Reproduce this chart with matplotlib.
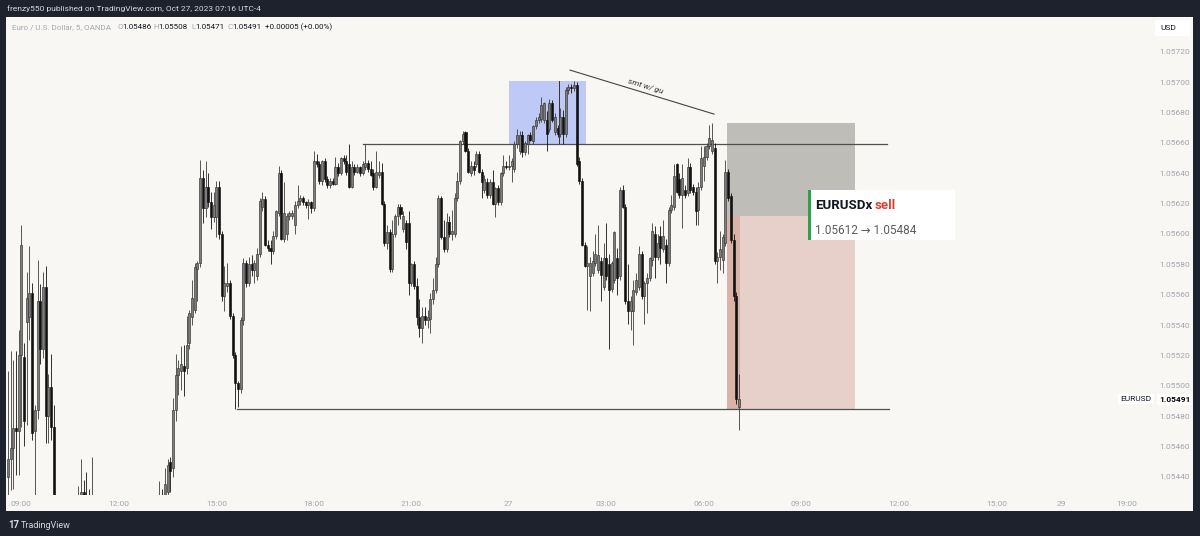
import numpy as np
import matplotlib.pyplot as plt
from matplotlib.patches import Rectangle
from matplotlib.transforms import blended_transform_factory

plt.rcParams['font.family'] = ['Roboto', 'DejaVu Sans']

# EUR/USD 5 min candles, Oct 26 08:35 -> Oct 27 07:05 (UTC-4)
# values are in points (1e-5) above 1.05000
open_pts = [
    440, 452, 459, 472, 470, 520, 519, 542, 545, 561,
    470, 484, 556, 524, 565, 480, 499, 473, 410, 405,
    398, 402, 395, 388, 392, 405, 415, 426, 430, 428,
    425, 415, 420, 408, 400, 405, 410, 403, 392, 395,
    402, 398, 390, 386, 392, 400, 396, 388, 393, 401,
    410, 406, 412, 418, 412, 416, 422, 428, 424, 430,
    450, 446, 484, 507, 510, 513, 512, 528, 545, 550,
    577, 581, 637, 617, 631, 621, 611, 611, 631, 600,
    559, 566, 568, 546, 520, 502, 498, 543, 581, 568,
    580, 576, 572, 587, 618, 623, 593, 591, 589, 599,
    614, 640, 597, 600, 612, 612, 606, 619, 622, 624,
    621, 619, 621, 617, 648, 646, 635, 648, 636, 632,
    635, 633, 644, 640, 650, 648, 646, 631, 644, 641,
    644, 640, 644, 647, 643, 640, 631, 639, 641, 620,
    594, 601, 577, 600, 612, 618, 603, 607, 607, 568,
    580, 566, 545, 538, 546, 543, 544, 557, 563, 580,
    624, 598, 590, 608, 600, 600, 624, 635, 661, 667,
    655, 640, 645, 646, 653, 641, 629, 634, 626, 634,
    620, 630, 621, 640, 645, 644, 645, 643, 659, 655,
    665, 654, 659, 665, 661, 671, 675, 676, 675, 675,
    669, 686, 667, 670, 666, 677, 666, 695, 697, 696,
    698, 648, 635, 593, 579, 572, 574, 581, 576, 582,
    565, 584, 580, 564, 570, 584, 572, 629, 618, 556,
    549, 549, 562, 565, 587, 559, 568, 571, 583, 600,
    585, 599, 590, 593, 581, 616, 618, 646, 636, 626,
    629, 627, 644, 631, 628, 616, 631, 645, 651, 658,
    655, 657, 582, 585, 583, 594, 641, 625, 596, 559,
    486,
]
high_pts = [
    510, 523, 517, 523, 537, 606, 528, 575, 592, 568,
    487, 583, 567, 575, 579, 508, 521, 487, 425, 418,
    410, 415, 405, 400, 410, 422, 434, 452, 438, 443,
    432, 453, 426, 415, 412, 418, 420, 410, 400, 408,
    412, 405, 398, 395, 404, 410, 402, 396, 405, 414,
    418, 415, 422, 424, 420, 426, 437, 432, 446, 452,
    453, 492, 521, 517, 526, 527, 546, 550, 570, 581,
    582, 649, 642, 648, 640, 628, 628, 635, 635, 602,
    579, 581, 570, 548, 522, 503, 545, 584, 583, 585,
    586, 583, 591, 624, 628, 625, 596, 596, 602, 616,
    645, 642, 634, 614, 615, 616, 622, 632, 626, 625,
    622, 623, 622, 655, 653, 648, 649, 650, 638, 637,
    637, 651, 647, 651, 652, 652, 659, 648, 646, 646,
    645, 648, 659, 649, 648, 643, 655, 648, 647, 622,
    606, 603, 609, 613, 620, 620, 615, 609, 615, 581,
    582, 571, 557, 552, 552, 550, 561, 571, 585, 626,
    625, 609, 614, 612, 616, 627, 641, 662, 668, 668,
    657, 648, 648, 655, 655, 643, 639, 637, 636, 642,
    631, 632, 641, 652, 648, 652, 650, 661, 669, 668,
    668, 661, 666, 667, 672, 677, 680, 690, 687, 681,
    689, 688, 680, 672, 683, 682, 697, 699, 699, 701,
    700, 651, 637, 595, 592, 585, 589, 600, 606, 585,
    594, 607, 587, 582, 602, 591, 631, 632, 620, 580,
    559, 570, 574, 592, 589, 569, 574, 585, 607, 605,
    600, 605, 609, 597, 618, 626, 646, 647, 640, 646,
    632, 650, 647, 633, 631, 634, 658, 658, 660, 672,
    673, 660, 588, 602, 600, 649, 643, 627, 600, 562,
    508,
]
low_pts = [
    420, 431, 432, 441, 441, 473, 460, 474, 530, 464,
    425, 478, 514, 518, 462, 462, 464, 400, 398, 392,
    385, 390, 380, 378, 386, 398, 408, 418, 420, 419,
    410, 412, 402, 395, 392, 398, 400, 388, 382, 390,
    394, 385, 380, 378, 388, 393, 384, 380, 388, 396,
    402, 398, 405, 408, 404, 410, 415, 418, 420, 426,
    430, 440, 477, 494, 497, 493, 508, 524, 540, 548,
    556, 578, 607, 611, 618, 603, 608, 598, 597, 556,
    549, 562, 544, 518, 485, 486, 495, 540, 565, 566,
    572, 568, 570, 585, 615, 592, 589, 580, 587, 597,
    612, 596, 595, 596, 609, 610, 600, 617, 619, 619,
    617, 610, 614, 615, 644, 633, 632, 634, 630, 630,
    632, 632, 638, 639, 646, 639, 630, 630, 639, 640,
    638, 639, 642, 641, 638, 629, 630, 637, 619, 592,
    590, 575, 575, 598, 606, 610, 601, 590, 560, 566,
    564, 540, 532, 528, 540, 538, 535, 554, 561, 578,
    597, 588, 588, 598, 596, 598, 622, 633, 659, 654,
    640, 638, 639, 644, 640, 624, 627, 624, 624, 619,
    611, 619, 619, 638, 643, 642, 634, 641, 657, 653,
    651, 652, 653, 661, 659, 669, 673, 674, 673, 655,
    667, 674, 665, 664, 664, 659, 664, 692, 693, 694,
    645, 633, 592, 578, 550, 549, 572, 579, 574, 556,
    563, 570, 524, 562, 568, 560, 570, 617, 554, 541,
    537, 527, 560, 563, 557, 541, 548, 569, 579, 571,
    583, 580, 588, 568, 579, 614, 616, 627, 624, 604,
    624, 625, 627, 626, 606, 606, 629, 635, 649, 656,
    653, 580, 568, 576, 574, 592, 622, 594, 556, 488,
    471,
]
close_pts = [
    452, 459, 472, 470, 520, 593, 477, 558, 561, 469,
    484, 556, 524, 565, 480, 499, 473, 410, 405, 398,
    402, 395, 388, 392, 405, 415, 426, 430, 428, 425,
    415, 420, 408, 400, 405, 410, 403, 392, 395, 402,
    398, 390, 386, 392, 400, 396, 388, 393, 401, 410,
    406, 412, 418, 412, 416, 422, 428, 424, 435, 448,
    444, 484, 507, 512, 514, 510, 527, 548, 558, 578,
    581, 637, 617, 631, 621, 611, 619, 631, 600, 559,
    568, 568, 546, 520, 502, 498, 543, 581, 568, 580,
    576, 581, 587, 622, 623, 593, 591, 589, 599, 615,
    640, 597, 614, 612, 614, 614, 619, 622, 624, 621,
    619, 621, 617, 648, 646, 635, 648, 636, 632, 635,
    633, 644, 640, 650, 648, 641, 631, 644, 641, 644,
    640, 646, 647, 643, 639, 631, 641, 641, 620, 594,
    601, 577, 600, 612, 618, 613, 612, 595, 568, 580,
    566, 545, 538, 546, 543, 545, 557, 563, 580, 624,
    598, 590, 608, 600, 602, 624, 635, 661, 666, 655,
    641, 645, 642, 653, 641, 634, 636, 626, 634, 620,
    630, 621, 640, 645, 644, 645, 648, 659, 665, 665,
    654, 660, 665, 662, 671, 675, 677, 685, 686, 666,
    686, 675, 677, 666, 677, 666, 695, 697, 696, 698,
    646, 635, 593, 579, 581, 581, 582, 587, 586, 573,
    584, 572, 563, 581, 601, 571, 629, 618, 556, 549,
    556, 563, 570, 587, 559, 568, 571, 584, 602, 585,
    594, 591, 599, 581, 616, 619, 638, 628, 626, 637,
    626, 644, 629, 628, 615, 631, 650, 651, 658, 663,
    662, 582, 585, 590, 598, 641, 624, 596, 559, 491,
    491,
]

time_ticks = [5, 41, 77, 113, 149, 185, 221, 257, 293, 329, 365, 389, 413]
time_labels = ['09:00', '12:00', '15:00', '18:00', '21:00', '27', '03:00',
               '06:00', '09:00', '12:00', '15:00', '29', '19:00']
price_ticks = [1.05440, 1.05460, 1.05480, 1.05500, 1.05520, 1.05540, 1.05560,
               1.05580, 1.05600, 1.05620, 1.05640, 1.05660, 1.05680, 1.05700,
               1.05720]
price_labels = ['%.5f' % p for p in price_ticks]

# drawings
entry, stop, target = 1.05612, 1.05673, 1.05484
box_top, box_bottom = 1.05701, 1.05659
resistance = 1.05659
support = 1.05485
last_price = 1.05491

CREAM = '#f8f7f3'
DARK = '#1e222d'
W, H = 1200, 536


def fx(px):
    return px / W


def fy(py):
    return 1 - py / H


o = 1.05 + np.array(open_pts) / 1e5
h = 1.05 + np.array(high_pts) / 1e5
l = 1.05 + np.array(low_pts) / 1e5
c = 1.05 + np.array(close_pts) / 1e5
x = np.arange(len(c))
up = c >= o

fig = plt.figure(figsize=(12, 5.36), dpi=100, facecolor=DARK)
fig.add_artist(Rectangle((fx(6), fy(511)), fx(1193) - fx(6), fy(17) - fy(511),
                         transform=fig.transFigure, facecolor=CREAM,
                         edgecolor='none', zorder=-1))

ax = fig.add_axes([fx(7), fy(495), (1152 - 7) / W, (495 - 17) / H])
ax.set_facecolor(CREAM)
for s in ax.spines.values():
    s.set_visible(False)

# candles
ax.vlines(x, l, h, colors=np.where(up, '#3c3c3c', '#111111'), linewidth=0.6, zorder=3)
body_lo = np.minimum(o, c)
body_h = np.maximum(np.abs(c - o), 0.000008)
ax.bar(x, body_h, bottom=body_lo, width=0.75,
       color=np.where(up, '#7c7c7c', '#111111'),
       edgecolor=np.where(up, '#333333', '#111111'), linewidth=0.45, zorder=4)

# blue box on the high
ax.add_patch(Rectangle((185.2, box_bottom), 28.3, box_top - box_bottom,
                       facecolor='#bfc9f5', edgecolor='none', zorder=1))
ax.plot([203.6, 203.6], [box_bottom, box_top], color='#333333', lw=0.7, zorder=2)

# short position
ax.add_patch(Rectangle((265.6, entry), 47.2, stop - entry,
                       facecolor='#bebdb8', edgecolor='none', zorder=1))
ax.add_patch(Rectangle((265.6, target), 47.2, entry - target,
                       facecolor='#e7d0c9', edgecolor='none', zorder=1))
ax.add_patch(Rectangle((265.6, target), 4.7, entry - target,
                       facecolor='#d9b2a8', edgecolor='none', zorder=1))

# levels
ax.plot([131.3, 324.7], [resistance, resistance], color='#505050', lw=0.9, zorder=2)
ax.plot([84.6, 325.4], [support, support], color='#505050', lw=0.9, zorder=2)

# smt trend line
ax.plot([207.6, 260.8], [1.05708, 1.05679], color='#444444', lw=0.8, zorder=2)
ax.text(235.5, 1.05697, 'smt w/ gu', rotation=-17, ha='center', va='center',
        fontsize=6, style='italic', color='#333333', zorder=5)

ax.set_xlim(-0.3, 422.5)
ax.set_ylim(1.05428, 1.05743)

ax.yaxis.tick_right()
ax.set_yticks(price_ticks)
ax.set_yticklabels(price_labels)
ax.set_xticks(time_ticks)
ax.set_xticklabels(time_labels)
ax.tick_params(axis='y', length=0, pad=5, labelsize=6, labelcolor='#a2a5ad')
ax.tick_params(axis='x', length=0, pad=4, labelsize=6, labelcolor='#a2a5ad')

# last price labels
tr = blended_transform_factory(ax.transAxes, ax.transData)
ax.text(0.986, last_price, 'EURUSD', transform=tr, ha='center', va='center',
        fontsize=6, color='#131722', clip_on=False,
        bbox=dict(boxstyle='square,pad=0.25', fc='white', ec='none'))
ax.text(1.006, last_price, '%.5f' % last_price, transform=tr, ha='left', va='center',
        fontsize=6, color='#000000', weight='bold', clip_on=False,
        bbox=dict(boxstyle='square,pad=0.25', fc='white', ec='none'), zorder=6)

# trade label
fig.add_artist(Rectangle((fx(808), fy(240)), 147 / W, 50 / H, transform=fig.transFigure,
                         facecolor='white', edgecolor='none', zorder=5))
fig.add_artist(Rectangle((fx(808), fy(240)), 3 / W, 50 / H, transform=fig.transFigure,
                         facecolor='#2ca24d', edgecolor='none', zorder=6))
fig.text(fx(815), fy(206), 'EURUSDx', fontsize=9.5, weight='bold', color='#131722',
         va='center', zorder=7)
fig.text(fx(875), fy(206), 'sell', fontsize=9.5, weight='bold', color='#d8412f',
         va='center', zorder=7)
fig.text(fx(815), fy(231), '%.5f \u2192 %.5f' % (entry, target), fontsize=8.5,
         color='#5d5d5d', va='center', zorder=7)

# USD box
fig.add_artist(Rectangle((fx(1155), fy(36)), 35 / W, 16 / H, transform=fig.transFigure,
                         facecolor='white', edgecolor='none', zorder=5))
fig.text(fx(1160), fy(28), 'USD', fontsize=6, color='#131722', va='center', zorder=6)

# header and legend
fig.text(fx(7), fy(8.5), 'frenzy550 published on TradingView.com, Oct 27, 2023 07:16 UTC-4',
         fontsize=6, color='#d6d8de', va='center')
legend = [(12, 'Euro / U.S. Dollar, 5, OANDA', '#a5a8b0'),
          (117, 'O', '#a5a8b0'), (122, '1.05486', '#131722'),
          (153, 'H', '#a5a8b0'), (158, '1.05508', '#131722'),
          (191, 'L', '#a5a8b0'), (195, '1.05471', '#131722'),
          (227, 'C', '#a5a8b0'), (232, '1.05491', '#131722'),
          (265, '+0.00005 (+0.00%)', '#131722')]
for px, s, col in legend:
    fig.text(fx(px), fy(27), s, fontsize=5.8, color=col, va='center')

# footer
fig.text(fx(8), fy(525), '17', fontsize=7, weight='bold', color='#d6d8de', va='center')
fig.text(fx(21), fy(525), 'TradingView', fontsize=6.5, color='#d6d8de', va='center')

fig.savefig('out.png', dpi=100, facecolor=DARK)
